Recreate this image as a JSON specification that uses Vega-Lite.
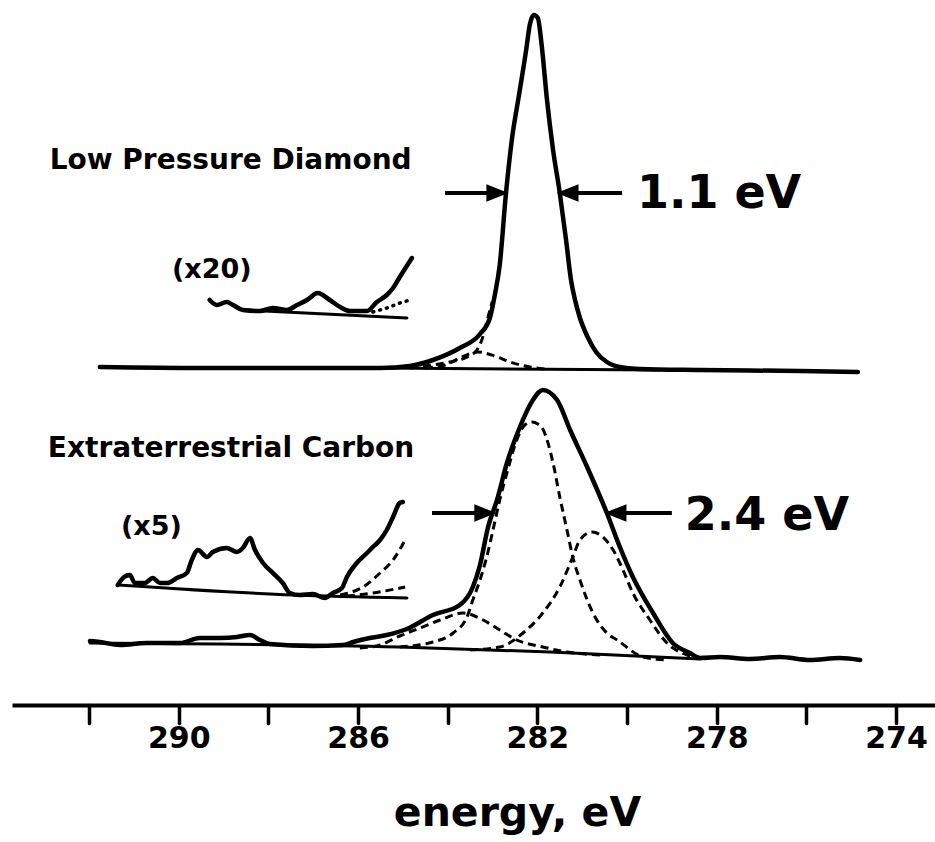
{
  "$schema": "https://vega.github.io/schema/vega-lite/v6.json",
  "width": 923,
  "height": 705,
  "autosize": {"type": "none"},
  "padding": {"left": 12, "top": 0, "right": 0, "bottom": 137},
  "background": "white",
  "config": {"view": {"stroke": null}},
  "datasets": {
    "traces": [
      {"s": "diamond", "e": 291.76, "v": 338}, {"s": "diamond", "e": 289.53, "v": 337}, {"s": "diamond", "e": 287.30, "v": 337},
      {"s": "diamond", "e": 285.51, "v": 337}, {"s": "diamond", "e": 284.84, "v": 339}, {"s": "diamond", "e": 284.33, "v": 345},
      {"s": "diamond", "e": 283.73, "v": 357}, {"s": "diamond", "e": 283.28, "v": 371}, {"s": "diamond", "e": 283.06, "v": 387},
      {"s": "diamond", "e": 282.95, "v": 410}, {"s": "diamond", "e": 282.84, "v": 440}, {"s": "diamond", "e": 282.70, "v": 512},
      {"s": "diamond", "e": 282.57, "v": 565}, {"s": "diamond", "e": 282.41, "v": 610}, {"s": "diamond", "e": 282.25, "v": 655},
      {"s": "diamond", "e": 282.17, "v": 680}, {"s": "diamond", "e": 282.08, "v": 690}, {"s": "diamond", "e": 281.99, "v": 687},
      {"s": "diamond", "e": 281.90, "v": 658}, {"s": "diamond", "e": 281.79, "v": 607}, {"s": "diamond", "e": 281.65, "v": 555},
      {"s": "diamond", "e": 281.50, "v": 512}, {"s": "diamond", "e": 281.36, "v": 465}, {"s": "diamond", "e": 281.25, "v": 425},
      {"s": "diamond", "e": 281.16, "v": 405}, {"s": "diamond", "e": 281.05, "v": 387}, {"s": "diamond", "e": 280.89, "v": 369},
      {"s": "diamond", "e": 280.69, "v": 353}, {"s": "diamond", "e": 280.45, "v": 343}, {"s": "diamond", "e": 280.16, "v": 338},
      {"s": "diamond", "e": 279.71, "v": 336}, {"s": "diamond", "e": 278.37, "v": 335}, {"s": "diamond", "e": 276.14, "v": 334},
      {"s": "diamond", "e": 274.85, "v": 333},

      {"s": "x20", "e": 289.31, "v": 405}, {"s": "x20", "e": 289.15, "v": 400}, {"s": "x20", "e": 288.93, "v": 403},
      {"s": "x20", "e": 288.79, "v": 400}, {"s": "x20", "e": 288.57, "v": 395}, {"s": "x20", "e": 288.19, "v": 394},
      {"s": "x20", "e": 287.90, "v": 397}, {"s": "x20", "e": 287.59, "v": 395}, {"s": "x20", "e": 287.36, "v": 400},
      {"s": "x20", "e": 287.14, "v": 405}, {"s": "x20", "e": 286.90, "v": 412}, {"s": "x20", "e": 286.63, "v": 405},
      {"s": "x20", "e": 286.40, "v": 398}, {"s": "x20", "e": 286.18, "v": 394}, {"s": "x20", "e": 285.80, "v": 394},
      {"s": "x20", "e": 285.58, "v": 403}, {"s": "x20", "e": 285.36, "v": 410}, {"s": "x20", "e": 285.22, "v": 417},
      {"s": "x20", "e": 285.07, "v": 428}, {"s": "x20", "e": 284.80, "v": 447},

      {"s": "carbon", "e": 291.98, "v": 64}, {"s": "carbon", "e": 291.76, "v": 63}, {"s": "carbon", "e": 291.31, "v": 60},
      {"s": "carbon", "e": 290.71, "v": 62}, {"s": "carbon", "e": 289.97, "v": 62}, {"s": "carbon", "e": 289.53, "v": 67},
      {"s": "carbon", "e": 289.08, "v": 67}, {"s": "carbon", "e": 288.70, "v": 68}, {"s": "carbon", "e": 288.41, "v": 70},
      {"s": "carbon", "e": 288.19, "v": 65}, {"s": "carbon", "e": 287.97, "v": 61}, {"s": "carbon", "e": 287.01, "v": 59},
      {"s": "carbon", "e": 286.34, "v": 60}, {"s": "carbon", "e": 286.11, "v": 63}, {"s": "carbon", "e": 285.74, "v": 67},
      {"s": "carbon", "e": 285.36, "v": 70}, {"s": "carbon", "e": 284.91, "v": 76}, {"s": "carbon", "e": 284.33, "v": 90},
      {"s": "carbon", "e": 283.73, "v": 100}, {"s": "carbon", "e": 283.44, "v": 118}, {"s": "carbon", "e": 283.28, "v": 140},
      {"s": "carbon", "e": 283.10, "v": 178}, {"s": "carbon", "e": 282.90, "v": 205}, {"s": "carbon", "e": 282.68, "v": 242},
      {"s": "carbon", "e": 282.39, "v": 278}, {"s": "carbon", "e": 282.10, "v": 305}, {"s": "carbon", "e": 281.88, "v": 315},
      {"s": "carbon", "e": 281.56, "v": 305}, {"s": "carbon", "e": 281.27, "v": 275}, {"s": "carbon", "e": 280.89, "v": 238},
      {"s": "carbon", "e": 280.45, "v": 192}, {"s": "carbon", "e": 280.16, "v": 158}, {"s": "carbon", "e": 279.87, "v": 128},
      {"s": "carbon", "e": 279.42, "v": 92}, {"s": "carbon", "e": 278.98, "v": 62}, {"s": "carbon", "e": 278.60, "v": 52},
      {"s": "carbon", "e": 278.37, "v": 47}, {"s": "carbon", "e": 277.93, "v": 48}, {"s": "carbon", "e": 277.26, "v": 46},
      {"s": "carbon", "e": 276.59, "v": 48}, {"s": "carbon", "e": 275.92, "v": 45}, {"s": "carbon", "e": 275.25, "v": 47},
      {"s": "carbon", "e": 274.80, "v": 45},

      {"s": "x5", "e": 291.36, "v": 120}, {"s": "x5", "e": 291.22, "v": 128}, {"s": "x5", "e": 291.09, "v": 130},
      {"s": "x5", "e": 290.98, "v": 122}, {"s": "x5", "e": 290.76, "v": 122}, {"s": "x5", "e": 290.58, "v": 127},
      {"s": "x5", "e": 290.42, "v": 122}, {"s": "x5", "e": 290.26, "v": 122}, {"s": "x5", "e": 290.04, "v": 127},
      {"s": "x5", "e": 289.82, "v": 132}, {"s": "x5", "e": 289.71, "v": 145}, {"s": "x5", "e": 289.57, "v": 155},
      {"s": "x5", "e": 289.37, "v": 148}, {"s": "x5", "e": 289.24, "v": 153}, {"s": "x5", "e": 288.93, "v": 157},
      {"s": "x5", "e": 288.70, "v": 153}, {"s": "x5", "e": 288.57, "v": 157}, {"s": "x5", "e": 288.41, "v": 167},
      {"s": "x5", "e": 288.30, "v": 155}, {"s": "x5", "e": 288.12, "v": 142}, {"s": "x5", "e": 287.90, "v": 132},
      {"s": "x5", "e": 287.68, "v": 122}, {"s": "x5", "e": 287.52, "v": 112}, {"s": "x5", "e": 287.30, "v": 110},
      {"s": "x5", "e": 287.01, "v": 111}, {"s": "x5", "e": 286.74, "v": 107}, {"s": "x5", "e": 286.56, "v": 112},
      {"s": "x5", "e": 286.36, "v": 117}, {"s": "x5", "e": 286.25, "v": 128}, {"s": "x5", "e": 286.03, "v": 142},
      {"s": "x5", "e": 285.80, "v": 152}, {"s": "x5", "e": 285.67, "v": 158}, {"s": "x5", "e": 285.51, "v": 165},
      {"s": "x5", "e": 285.36, "v": 175}, {"s": "x5", "e": 285.22, "v": 188}, {"s": "x5", "e": 285.07, "v": 202},
      {"s": "x5", "e": 285.00, "v": 203}
    ],
    "baselines": [
      {"s": "diamond", "e": 285.51, "v": 337}, {"s": "diamond", "e": 279.27, "v": 335},
      {"s": "x20", "e": 288.57, "v": 395}, {"s": "x20", "e": 284.91, "v": 387},
      {"s": "carbon", "e": 291.98, "v": 62}, {"s": "carbon", "e": 285.07, "v": 58}, {"s": "carbon", "e": 281.72, "v": 53}, {"s": "carbon", "e": 278.37, "v": 46},
      {"s": "x5", "e": 291.36, "v": 120}, {"s": "x5", "e": 287.45, "v": 110}, {"s": "x5", "e": 284.91, "v": 107}
    ],
    "components": [
      {"s": "d_small", "e": 284.51, "v": 337}, {"s": "d_small", "e": 284.06, "v": 340}, {"s": "d_small", "e": 283.73, "v": 347},
      {"s": "d_small", "e": 283.33, "v": 353}, {"s": "d_small", "e": 282.95, "v": 349}, {"s": "d_small", "e": 282.61, "v": 343},
      {"s": "d_small", "e": 282.17, "v": 338}, {"s": "d_small", "e": 281.83, "v": 336},
      {"s": "d_main", "e": 283.01, "v": 403}, {"s": "d_main", "e": 283.13, "v": 383}, {"s": "d_main", "e": 283.24, "v": 365},
      {"s": "d_main", "e": 283.35, "v": 355}, {"s": "d_main", "e": 283.57, "v": 348}, {"s": "d_main", "e": 283.95, "v": 343},
      {"s": "d_main", "e": 284.33, "v": 340}, {"s": "d_main", "e": 284.84, "v": 337},

      {"s": "c_main", "e": 285.07, "v": 58}, {"s": "c_main", "e": 284.33, "v": 63}, {"s": "c_main", "e": 283.88, "v": 72},
      {"s": "c_main", "e": 283.57, "v": 88}, {"s": "c_main", "e": 283.44, "v": 105}, {"s": "c_main", "e": 283.28, "v": 125},
      {"s": "c_main", "e": 283.13, "v": 148}, {"s": "c_main", "e": 282.99, "v": 175}, {"s": "c_main", "e": 282.84, "v": 205},
      {"s": "c_main", "e": 282.68, "v": 232}, {"s": "c_main", "e": 282.46, "v": 265}, {"s": "c_main", "e": 282.28, "v": 280},
      {"s": "c_main", "e": 282.12, "v": 283}, {"s": "c_main", "e": 281.99, "v": 281}, {"s": "c_main", "e": 281.88, "v": 276},
      {"s": "c_main", "e": 281.65, "v": 242}, {"s": "c_main", "e": 281.50, "v": 208}, {"s": "c_main", "e": 281.34, "v": 175},
      {"s": "c_main", "e": 281.21, "v": 148}, {"s": "c_main", "e": 281.05, "v": 125}, {"s": "c_main", "e": 280.76, "v": 92},
      {"s": "c_main", "e": 280.45, "v": 72}, {"s": "c_main", "e": 280.22, "v": 65}, {"s": "c_main", "e": 279.64, "v": 48},
      {"s": "c_main", "e": 279.11, "v": 45},

      {"s": "c_high", "e": 283.50, "v": 55}, {"s": "c_high", "e": 282.84, "v": 58}, {"s": "c_high", "e": 282.32, "v": 72},
      {"s": "c_high", "e": 281.88, "v": 92}, {"s": "c_high", "e": 281.50, "v": 118}, {"s": "c_high", "e": 281.21, "v": 148},
      {"s": "c_high", "e": 281.05, "v": 165}, {"s": "c_high", "e": 280.78, "v": 173}, {"s": "c_high", "e": 280.54, "v": 168},
      {"s": "c_high", "e": 280.31, "v": 155}, {"s": "c_high", "e": 280.09, "v": 135}, {"s": "c_high", "e": 279.87, "v": 112},
      {"s": "c_high", "e": 279.49, "v": 85}, {"s": "c_high", "e": 279.11, "v": 62}, {"s": "c_high", "e": 278.66, "v": 50},
      {"s": "c_high", "e": 278.37, "v": 47},

      {"s": "c_low", "e": 285.96, "v": 57}, {"s": "c_low", "e": 285.51, "v": 60}, {"s": "c_low", "e": 285.07, "v": 69},
      {"s": "c_low", "e": 284.62, "v": 77}, {"s": "c_low", "e": 284.17, "v": 85}, {"s": "c_low", "e": 283.66, "v": 92},
      {"s": "c_low", "e": 283.21, "v": 85}, {"s": "c_low", "e": 282.84, "v": 75}, {"s": "c_low", "e": 282.46, "v": 65},
      {"s": "c_low", "e": 281.88, "v": 58}, {"s": "c_low", "e": 281.34, "v": 53}, {"s": "c_low", "e": 280.60, "v": 50},

      {"s": "x5_a", "e": 286.40, "v": 110}, {"s": "x5_a", "e": 285.89, "v": 118}, {"s": "x5_a", "e": 285.51, "v": 132},
      {"s": "x5_a", "e": 285.22, "v": 145}, {"s": "x5_a", "e": 284.95, "v": 165},
      {"s": "x5_b", "e": 286.25, "v": 109}, {"s": "x5_b", "e": 285.67, "v": 112}, {"s": "x5_b", "e": 284.95, "v": 118}
    ],
    "dotted": [
      {"s": "x20_dot", "e": 285.67, "v": 393}, {"s": "x20_dot", "e": 285.36, "v": 397},
      {"s": "x20_dot", "e": 285.07, "v": 402}, {"s": "x20_dot", "e": 284.84, "v": 405}
    ],
    "arrows": [
      {"e": 282.72, "tail": 284.06, "v": 512, "dir": "r"},
      {"e": 281.50, "tail": 280.11, "v": 512, "dir": "l"},
      {"e": 282.99, "tail": 284.35, "v": 192, "dir": "r"},
      {"e": 280.43, "tail": 279.00, "v": 192, "dir": "l"}
    ],
    "names": [
      {"e": 292.88, "v": 536, "t": "Low Pressure Diamond"},
      {"e": 292.92, "v": 248, "t": "Extraterrestrial Carbon"}
    ],
    "widths": [
      {"e": 279.78, "v": 497, "t": "1.1 eV"},
      {"e": 278.71, "v": 175, "t": "2.4 eV"}
    ],
    "factors": [
      {"e": 290.15, "v": 427, "t": "(x20)"},
      {"e": 291.29, "v": 170, "t": "(x5)"}
    ]
  },
  "encoding": {
    "x": {
      "field": "e", "type": "quantitative",
      "scale": {"domain": [273.13, 293.72], "reverse": true, "nice": false, "zero": false},
      "axis": {
        "values": [292, 290, 288, 286, 284, 282, 280, 278, 276, 274],
        "labelExpr": "datum.value % 4 == 2 ? datum.label : ''",
        "grid": false,
        "domainColor": "black", "domainWidth": 4,
        "tickColor": "black", "tickWidth": 3.5, "tickSize": 18, "tickCap": "round",
        "labelFont": "DejaVu Sans", "labelFontSize": 30, "labelFontWeight": "bold", "labelColor": "black",
        "labelPadding": 0, "labelOverlap": false, "labelFlush": false,
        "title": "energy, eV",
        "titleFont": "DejaVu Sans", "titleFontSize": 41, "titleFontWeight": "bold", "titleColor": "black",
        "titleX": 505, "titleY": 120, "titleBaseline": "alphabetic", "titleAlign": "center", "titleAnchor": "middle"
      }
    },
    "y": {
      "field": "v", "type": "quantitative",
      "scale": {"domain": [0, 705], "nice": false, "zero": false},
      "axis": null
    }
  },
  "layer": [
    {
      "data": {"name": "baselines"},
      "mark": {"type": "line", "color": "black", "strokeWidth": 3, "strokeCap": "round", "strokeJoin": "round", "interpolate": "monotone"},
      "encoding": {"detail": {"field": "s", "type": "nominal"}}
    },
    {
      "data": {"name": "components"},
      "mark": {"type": "line", "color": "black", "strokeWidth": 3, "strokeDash": [8, 5], "strokeJoin": "round", "interpolate": "monotone"},
      "encoding": {"detail": {"field": "s", "type": "nominal"}}
    },
    {
      "data": {"name": "dotted"},
      "mark": {"type": "line", "color": "black", "strokeWidth": 3.5, "strokeDash": [1, 6], "strokeCap": "round"},
      "encoding": {"detail": {"field": "s", "type": "nominal"}}
    },
    {
      "data": {"name": "traces"},
      "mark": {"type": "line", "color": "black", "strokeWidth": 4.5, "strokeCap": "round", "strokeJoin": "round", "interpolate": "monotone"},
      "encoding": {"detail": {"field": "s", "type": "nominal"}}
    },
    {
      "data": {"name": "arrows"},
      "mark": {"type": "rule", "color": "black", "strokeWidth": 4},
      "encoding": {"x2": {"field": "tail"}}
    },
    {
      "data": {"name": "arrows"},
      "transform": [{"filter": "datum.dir == 'r'"}],
      "mark": {"type": "point", "shape": "M 0.3 0 L -1.7 -0.8 L -1.7 0.8 Z", "filled": true, "size": 484, "color": "black", "opacity": 1}
    },
    {
      "data": {"name": "arrows"},
      "transform": [{"filter": "datum.dir == 'l'"}],
      "mark": {"type": "point", "shape": "M -0.3 0 L 1.7 -0.8 L 1.7 0.8 Z", "filled": true, "size": 484, "color": "black", "opacity": 1}
    },
    {
      "data": {"name": "names"},
      "mark": {"type": "text", "font": "DejaVu Sans", "fontSize": 28, "fontWeight": "bold", "color": "black", "align": "left", "baseline": "alphabetic"},
      "encoding": {"text": {"field": "t"}}
    },
    {
      "data": {"name": "widths"},
      "mark": {"type": "text", "font": "DejaVu Sans", "fontSize": 46, "fontWeight": "bold", "color": "black", "align": "left", "baseline": "alphabetic"},
      "encoding": {"text": {"field": "t"}}
    },
    {
      "data": {"name": "factors"},
      "mark": {"type": "text", "font": "DejaVu Sans", "fontSize": 27, "fontWeight": "bold", "color": "black", "align": "left", "baseline": "alphabetic"},
      "encoding": {"text": {"field": "t"}}
    }
  ]
}
